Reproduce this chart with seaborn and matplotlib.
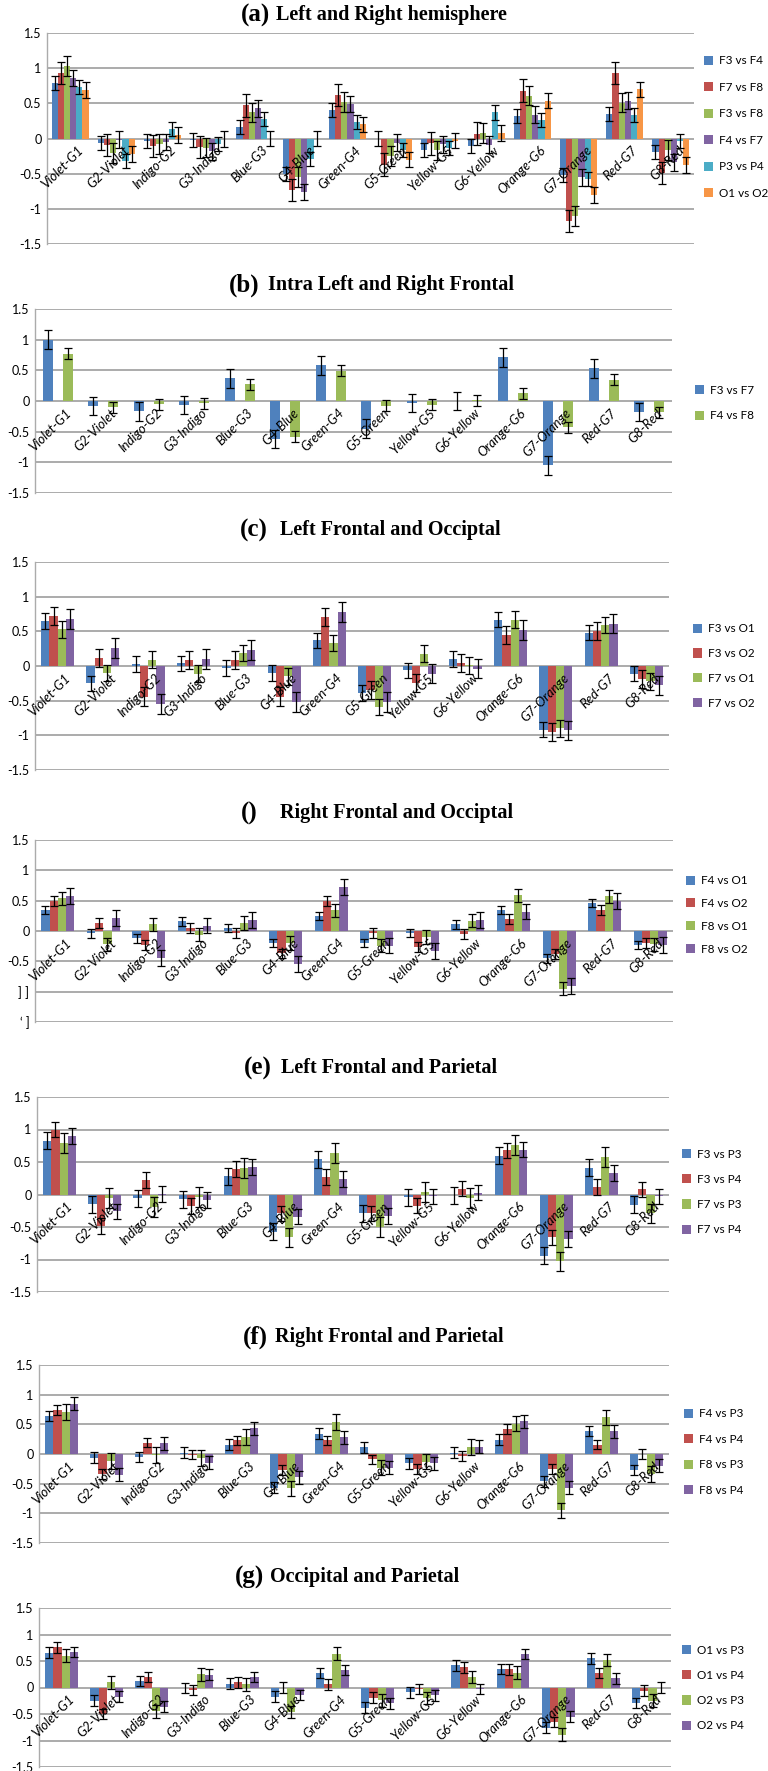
import numpy as np
import pandas as pd
import matplotlib
matplotlib.use("Agg")
import matplotlib.pyplot as plt
import seaborn as sns
from matplotlib.patches import Patch
from matplotlib.container import BarContainer
from matplotlib.ticker import FuncFormatter

plt.rcParams['font.family'] = ['Lato', 'DejaVu Sans']

cats = ["Violet-G1", "G2-Violet", "Indigo-G2", "G3-Indigo", "Blue-G3", "G4-Blue",
        "Green-G4", "G5-Green", "Yellow-G5", "G6-Yellow", "Orange-G6", "G7-Orange",
        "Red-G7", "G8-Red"]

# excel 2007 palette
blue, red, green, purple, aqua, orange = "#4F81BD", "#C0504D", "#9BBB59", "#8064A2", "#4BACC6", "#F79646"

# (a) Left and Right hemisphere
a_names = ["F3 vs F4", "F7 vs F8", "F3 vs F8", "F4 vs F7", "P3 vs P4", "O1 vs O2"]
a_vals = [
    [0.79, -0.06, -0.04, -0.02, 0.17, -0.50, 0.40, 0.00, -0.16, -0.10, 0.32, -0.52, 0.35, -0.19],
    [0.93, -0.09, -0.11, -0.12, 0.47, -0.73, 0.62, -0.37, -0.07, 0.07, 0.68, -1.17, 0.93, -0.49],
    [1.03, -0.21, -0.08, -0.13, 0.37, -0.55, 0.52, -0.25, -0.17, 0.08, 0.61, -1.10, 0.51, -0.16],
    [0.86, -0.02, -0.05, -0.18, 0.43, -0.76, 0.49, -0.06, -0.08, -0.09, 0.34, -0.55, 0.54, -0.34],
    [0.73, -0.32, 0.14, -0.08, 0.28, -0.29, 0.24, -0.16, -0.14, 0.37, 0.26, -0.57, 0.33, -0.04],
    [0.69, -0.22, 0.05, -0.01, 0.00, 0.00, 0.20, -0.30, -0.03, 0.08, 0.54, -0.80, 0.70, -0.38],
]
a_err = [0.10, 0.16, 0.14, 0.12, 0.10, 0.11]

# (b) Intra Left and Right Frontal
b_names = ["F3 vs F7", "F4 vs F8"]
b_vals = [
    [1.00, -0.08, -0.17, -0.07, 0.37, -0.62, 0.58, -0.45, -0.03, 0.00, 0.71, -1.05, 0.53, -0.18],
    [0.77, -0.10, -0.05, -0.04, 0.27, -0.58, 0.49, -0.08, -0.06, 0.01, 0.13, -0.43, 0.35, -0.18],
]
b_err = [0.15, 0.09]

# (c) Left Frontal and Occiptal
c_names = ["F3 vs O1", "F3 vs O2", "F7 vs O1", "F7 vs O2"]
c_vals = [
    [0.65, -0.25, 0.03, 0.04, -0.03, -0.10, 0.37, -0.39, -0.06, 0.10, 0.67, -0.92, 0.48, -0.11],
    [0.72, 0.12, -0.44, 0.09, 0.09, -0.44, 0.70, -0.34, -0.24, 0.05, 0.45, -0.95, 0.51, -0.19],
    [0.53, -0.10, 0.09, -0.11, 0.19, -0.15, 0.33, -0.59, 0.18, 0.01, 0.67, -0.90, 0.59, -0.22],
    [0.68, 0.26, -0.55, 0.10, 0.23, -0.52, 0.78, -0.52, -0.11, -0.04, 0.52, -0.93, 0.61, -0.28],
]
c_err = [0.11, 0.13, 0.12, 0.14]

# () Right Frontal and Occiptal
d_names = ["F4 vs O1", "F4 vs O2", "F8 vs O1", "F8 vs O2"]
d_vals = [
    [0.35, -0.04, -0.12, 0.16, 0.05, -0.20, 0.25, -0.20, -0.03, 0.11, 0.35, -0.45, 0.46, -0.23],
    [0.50, 0.13, -0.23, 0.05, -0.03, -0.37, 0.50, -0.03, -0.26, -0.05, 0.20, -0.38, 0.35, -0.20],
    [0.54, -0.22, 0.11, -0.06, 0.13, -0.20, 0.34, -0.24, -0.10, 0.17, 0.59, -0.95, 0.57, -0.22],
    [0.58, 0.22, -0.45, 0.09, 0.18, -0.54, 0.73, -0.24, -0.33, 0.18, 0.32, -0.91, 0.50, -0.23],
]
d_err = [0.07, 0.08, 0.11, 0.13]

# (e) Left Frontal and Parietal
e_names = ["F3 vs P3", "F3 vs P4", "F7 vs P3", "F7 vs P4"]
e_vals = [
    [0.83, -0.15, -0.06, -0.07, 0.28, -0.57, 0.54, -0.29, -0.04, -0.01, 0.60, -0.94, 0.41, -0.16],
    [1.00, -0.48, 0.22, -0.18, 0.39, -0.29, 0.27, -0.29, -0.17, 0.09, 0.68, -0.66, 0.12, 0.08],
    [0.79, -0.05, -0.19, -0.04, 0.41, -0.66, 0.64, -0.50, 0.04, -0.05, 0.76, -1.03, 0.58, -0.29],
    [0.90, -0.26, 0.01, -0.08, 0.42, -0.34, 0.24, -0.33, -0.03, 0.03, 0.69, -0.68, 0.33, -0.03],
]
e_err = [0.13, 0.12, 0.15, 0.12]

# (f) Right Frontal and Parietal
f_names = ["F4 vs P3", "F4 vs P4", "F8 vs P3", "F8 vs P4"]
f_vals = [
    [0.64, -0.06, -0.05, 0.02, 0.16, -0.57, 0.34, 0.11, -0.16, 0.02, 0.24, -0.46, 0.39, -0.27],
    [0.74, -0.34, 0.19, -0.01, 0.23, -0.27, 0.23, -0.09, -0.25, -0.03, 0.42, -0.25, 0.16, 0.00],
    [0.71, -0.12, -0.02, -0.07, 0.29, -0.58, 0.54, -0.23, -0.13, 0.12, 0.51, -0.95, 0.62, -0.34],
    [0.85, -0.35, 0.18, -0.15, 0.43, -0.39, 0.28, -0.23, -0.16, 0.12, 0.55, -0.57, 0.38, -0.20],
]
f_err = [0.09, 0.08, 0.13, 0.11]

# (g) Occipital and Parietal
g_names = ["O1 vs P3", "O1 vs P4", "O2 vs P3", "O2 vs P4"]
g_vals = [
    [0.66, -0.25, 0.12, -0.01, 0.07, -0.17, 0.27, -0.38, -0.09, 0.42, 0.35, -0.76, 0.55, -0.29],
    [0.76, -0.50, 0.20, -0.05, 0.10, 0.00, 0.06, -0.19, -0.03, 0.38, 0.34, -0.65, 0.27, -0.06],
    [0.60, 0.10, -0.45, 0.25, 0.06, -0.46, 0.64, -0.24, -0.20, 0.20, 0.28, -0.89, 0.52, -0.25],
    [0.67, -0.17, -0.36, 0.24, 0.20, -0.14, 0.33, -0.30, -0.15, -0.03, 0.63, -0.55, 0.17, 0.00],
]
g_err = [0.10, 0.10, 0.12, 0.10]

W, H = 768, 1771
fig = plt.figure(figsize=(W / 100, H / 100), dpi=100)

# letter, title, names, values, errors, colours, axes box (px), legend (x, y, spacing), bar width, gap, title x split, title y
panels = [
    ("(a)", "Left and Right hemisphere", a_names, a_vals, a_err,
     [blue, red, green, purple, aqua, orange], (47, 33, 694, 244), (704, 127, 28), 0.8, 0, (270, 276), 15),
    ("(b)", "Intra Left and Right Frontal", b_names, b_vals, b_err,
     [blue, green], (35, 309, 672, 493), (695, 403, 27), 0.89, 0.5, (260, 268), 285),
    ("(c)", "Left Frontal and Occiptal", c_names, c_vals, c_err,
     [blue, red, green, purple], (35, 562, 669, 770), (693, 666, 26.3), 0.727, 0, (268, 280), 530),
    ("()", "Right Frontal and Occiptal", d_names, d_vals, d_err,
     [blue, red, green, purple], (35, 840, 673, 1022), (686, 915, 24.4), 0.727, 0, (258, 280), 813),
    ("(e)", "Left Frontal and Parietal", e_names, e_vals, e_err,
     [blue, red, green, purple], (37, 1097, 669, 1292), (682, 1192, 26.7), 0.727, 0, (272, 281), 1068),
    ("(f)", "Right Frontal and Parietal", f_names, f_vals, f_err,
     [blue, red, green, purple], (39, 1365, 669, 1543), (684, 1452, 27), 0.727, 0, (268, 275), 1337),
    ("(g)", "Occipital and Parietal", g_names, g_vals, g_err,
     [blue, red, green, purple], (39, 1608, 671, 1767), (682, 1688, 26.7), 0.727, 0, (264, 270), 1577),
]

gridc = "#ababab"
for letter, title, names, vals, errs, cols, box, leg, width, gap, tx, ty in panels:
    x0, y0, x1, y1 = box
    ax = fig.add_axes([x0 / W, 1 - y1 / H, (x1 - x0) / W, (y1 - y0) / H])

    df = pd.DataFrame({
        "cat": cats * len(names),
        "series": np.repeat(names, len(cats)),
        "val": np.concatenate(vals),
    })
    sns.barplot(data=df, x="cat", y="val", hue="series", order=cats, hue_order=names,
                palette=cols, width=width, gap=gap, saturation=1, errorbar=None,
                legend=False, linewidth=0, ax=ax)

    # error bars on each bar, one bar container per series
    bar_groups = [c for c in ax.containers if isinstance(c, BarContainer)]
    for h, cont in enumerate(bar_groups):
        xs = [p.get_x() + p.get_width() / 2 for p in cont.patches]
        ax.errorbar(xs, vals[h], yerr=errs[h], fmt="none", ecolor="black",
                    elinewidth=0.9, capsize=2.6, capthick=0.9, zorder=4)

    ax.set_ylim(-1.5, 1.5)
    ax.set_xlim(-0.5, len(cats) - 0.5)
    ax.set_yticks(np.arange(-1.5, 1.51, 0.5))
    ax.yaxis.set_major_formatter(FuncFormatter(lambda v, p: "%g" % v))
    ax.set_xticks([])
    ax.set_xlabel("")
    ax.set_ylabel("")
    ax.grid(axis="y", color=gridc, linewidth=1.4)
    ax.set_axisbelow(True)
    for s in ["top", "right", "bottom"]:
        ax.spines[s].set_visible(False)
    ax.spines["left"].set_color(gridc)
    ax.spines["left"].set_linewidth(1.0)
    ax.tick_params(axis="y", length=0, pad=4, labelsize=9)
    if letter == "()":
        # garbled tick labels in the source image
        labs = ["%g" % v for v in np.arange(-1.5, 1.51, 0.5)]
        labs[0], labs[1] = "\u2018 ]", "] ]"
        ax.set_yticklabels(labs)

    # category labels hang below the zero line
    for i, c in enumerate(cats):
        ax.annotate(c, xy=(i, 0), xytext=(5, -4), textcoords="offset points",
                    rotation=45, rotation_mode="anchor", ha="right", va="top",
                    fontsize=9.5, style="italic", zorder=5)

    handles = [Patch(facecolor=c, edgecolor="none") for c in cols]
    lx, ly, sp = leg
    ax.legend(handles, names, loc="center left", bbox_to_anchor=(lx / W, 1 - ly / H),
              bbox_transform=fig.transFigure, frameon=False, handlelength=0.8,
              handleheight=0.8, handletextpad=0.45, borderpad=0, borderaxespad=0,
              labelspacing=(sp - 12.5) / 11.8, fontsize=8.5)

    fig.text(tx[0] / W, 1 - ty / H, letter, ha="right", va="center", fontsize=18,
             fontweight="bold", family="Liberation Serif")
    fig.text(tx[1] / W, 1 - ty / H, title, ha="left", va="center", fontsize=14.5,
             fontweight="bold", family="Liberation Serif")

fig.savefig("out.png", dpi=100)
